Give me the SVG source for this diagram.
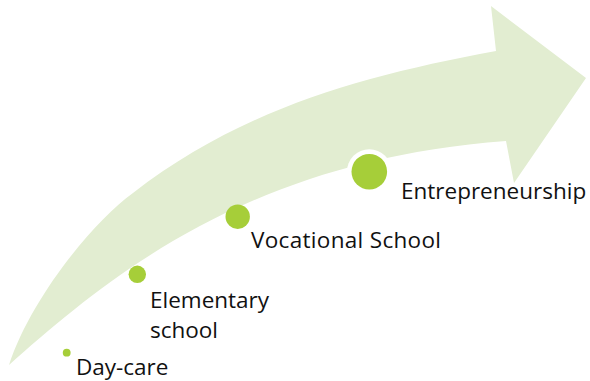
<svg xmlns="http://www.w3.org/2000/svg" width="590" height="381" viewBox="0 0 590 381">
  <style>
    .dot { fill: #A6CE39; }
    .lbl { font-family: "Open Sans", "Liberation Sans", sans-serif; font-size: 22.5px; fill: #111111; }
  </style>
  <rect x="0" y="0" width="590" height="381" fill="#FFFFFF"/>
  <g id="arrow">
    <path fill="#E2EDD1" d="M 9,365 C 31,298 93,222 133,193 C 240,110 360,76 496,51 L 491,6 L 586,78 L 514,183 L 506,141 C 250,160 110,275 9,365 Z"/>
  </g>
  <g id="connectors"></g>
  <g id="daycare">
    <circle class="dot" cx="66.7" cy="352.7" r="3.9"/>
    <text class="lbl" x="76" y="374.5" font-size="22">Day-care</text>
  </g>
  <g id="elementary">
    <circle class="dot" cx="137.3" cy="274.3" r="8.7"/>
    <text class="lbl" x="150" y="308">Elementary</text>
    <text class="lbl" x="150" y="338">school</text>
  </g>
  <g id="vocational">
    <circle class="dot" cx="237.7" cy="216.7" r="12.2"/>
    <text class="lbl" x="251" y="248" textLength="190">Vocational School</text>
  </g>
  <g id="entrepreneurship">
    <circle cx="369.3" cy="171.7" r="22.4" fill="#FFFFFF"/>
    <circle class="dot" cx="369.3" cy="171.7" r="17.8"/>
    <text class="lbl" x="401" y="199">Entrepreneurship</text>
  </g>
</svg>
